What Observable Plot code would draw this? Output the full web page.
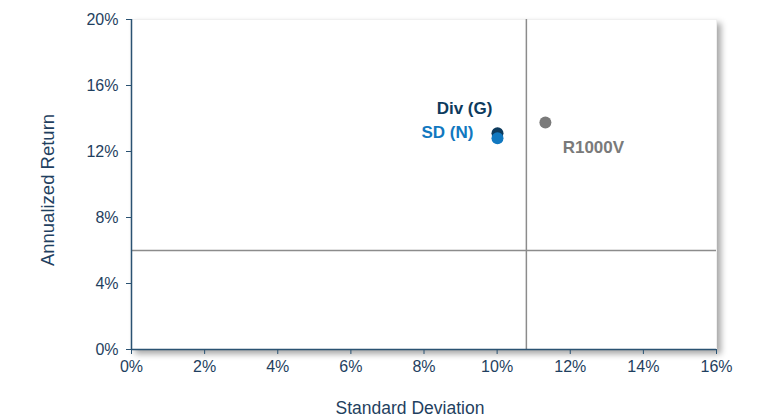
<!DOCTYPE html>
<html><head><meta charset="utf-8">
<script src="https://cdn.jsdelivr.net/npm/d3@7"></script>
<script src="https://cdn.jsdelivr.net/npm/@observablehq/plot@0.6"></script>
<style>
body{margin:0;background:#fff;font-family:"Liberation Sans",Arial,sans-serif;}
#chart{position:relative;width:765px;height:417px;}
</style></head><body><div id="chart"></div>
<script>
const names = ["Div (G)", "SD (N)", "R1000V"];
const stdDev = [0.1001, 0.1001, 0.1132];
const annReturn = [0.1310, 0.1280, 0.1376];
const colors = ["#0d3b5e", "#1178c0", "#7a7a7a"];
const xTicks = [0, 0.02, 0.04, 0.06, 0.08, 0.10, 0.12, 0.14, 0.16];
const yTicks = [0, 0.04, 0.08, 0.12, 0.16, 0.20];
const refX = [0.108];
const refY = [0.06];

const data = names.map((n, i) => ({name: n, x: stdDev[i], y: annReturn[i], c: colors[i]}));
const axisColor = "#2a5272";
const labelColor = "#1f3f60";
const fmt = d => Math.round(d*100) + "%";

const plot = Plot.plot({
  width: 765, height: 417,
  marginLeft: 131, marginRight: 49, marginTop: 19, marginBottom: 68,
  style: {fontFamily: '"Liberation Sans", Arial, sans-serif', fontSize: "16px", color: labelColor, background: "transparent"},
  x: {domain: [0, 0.16], label: null},
  y: {domain: [0, 0.20], label: null},
  marks: [
    Plot.frame({fill: "white", stroke: "#f0f0f0"}),
    Plot.ruleX(refX, {stroke: "#8c8c8c", strokeWidth: 1.5}),
    Plot.ruleY(refY, {stroke: "#8c8c8c", strokeWidth: 1.5}),
    Plot.ruleX([0], {stroke: axisColor, strokeWidth: 1.5}),
    Plot.ruleY([0], {stroke: axisColor, strokeWidth: 1.5}),
    Plot.axisX({ticks: xTicks, tickFormat: fmt, tickSize: 5, stroke: axisColor, tickPadding: 6, fill: labelColor, label: null, fontSize: 16}),
    Plot.axisY({ticks: yTicks, tickFormat: fmt, tickSize: 5, stroke: axisColor, tickPadding: 8, fill: labelColor, label: null, fontSize: 16}),
    Plot.dot(data, {x: "x", y: "y", r: 6, fill: "c", stroke: "none"}),
    Plot.text(data.filter(d => d.name === "Div (G)"), {x: "x", y: "y", text: "name", fill: "c", fontWeight: "bold", fontSize: 17, dx: -33, dy: -25}),
    Plot.text(data.filter(d => d.name === "SD (N)"), {x: "x", y: "y", text: "name", fill: "c", fontWeight: "bold", fontSize: 17, dx: -50, dy: -6}),
    Plot.text(data.filter(d => d.name === "R1000V"), {x: "x", y: "y", text: "name", fill: "c", fontWeight: "bold", fontSize: 17, dx: 48, dy: 25})
  ]
});
const frame = plot.querySelector('[aria-label="frame"]');
if (frame) frame.style.filter = "drop-shadow(4px 4px 3px rgba(0,0,0,0.35))";
plot.querySelectorAll('g[aria-label*="tick label"]').forEach(el => {
  el.setAttribute("font-size", "16");
  el.querySelectorAll("text").forEach(t => t.style.fontSize = "16px");
});
const svg = d3.select(plot);
svg.append("text").attr("x", 410).attr("y", 414).attr("text-anchor", "middle")
  .attr("fill", labelColor).attr("font-size", 17.5).text("Standard Deviation");
svg.append("text").attr("transform", "translate(54,190) rotate(-90)").attr("text-anchor", "middle")
  .attr("fill", labelColor).attr("font-size", 18.5).text("Annualized Return");
document.getElementById("chart").appendChild(plot);
</script></body></html>
